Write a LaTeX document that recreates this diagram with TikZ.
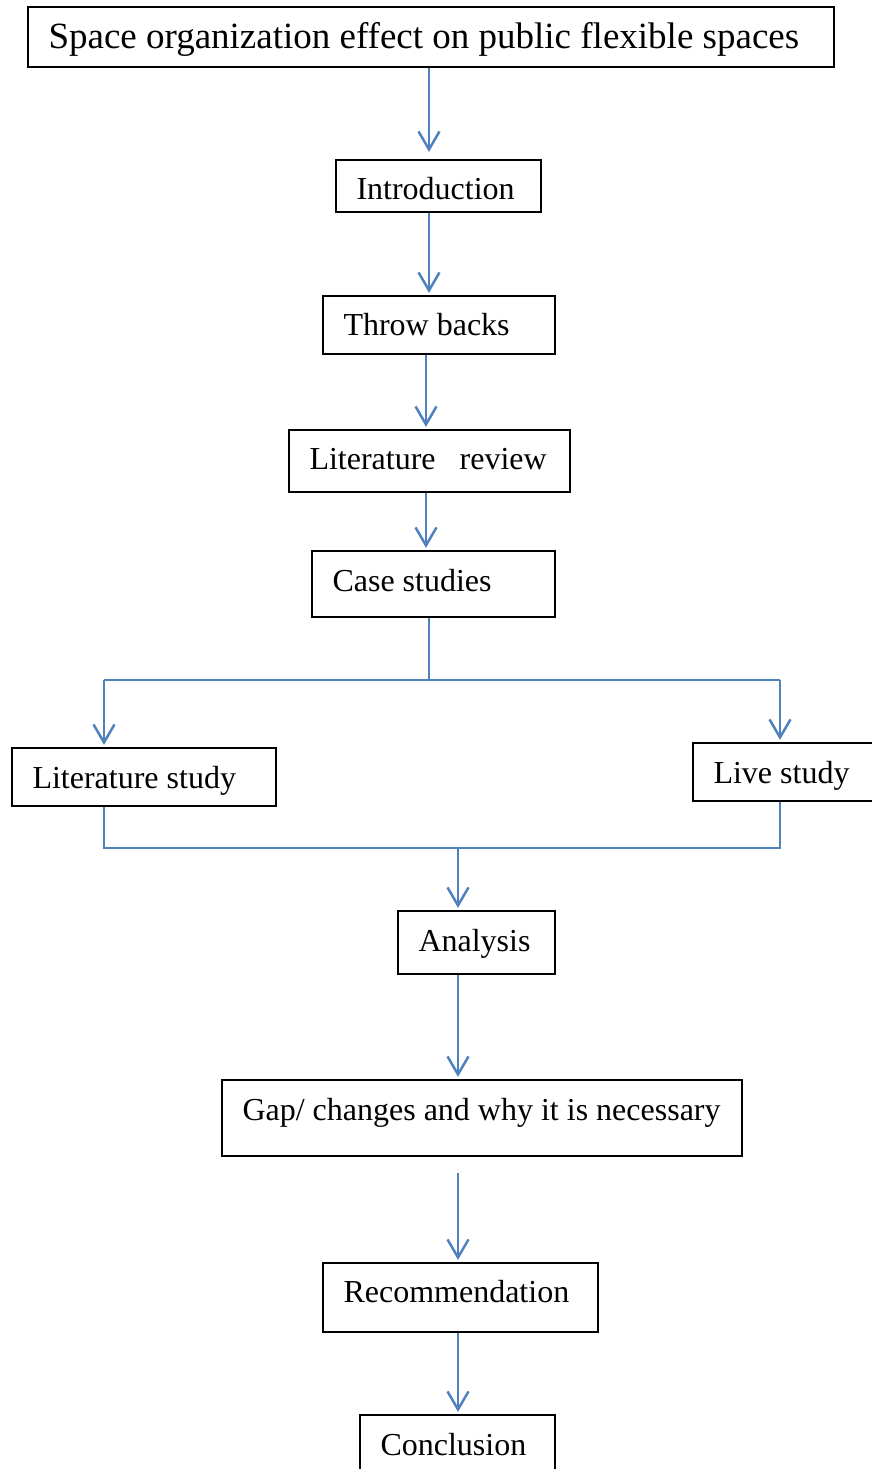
\documentclass[tikz,border=0pt]{standalone}
\usepackage{fontspec}
\setmainfont{Liberation Serif}
\usetikzlibrary{arrows.meta}
\definecolor{linkblue}{HTML}{4F81BD}
\newcommand\boxfont{\fontsize{32}{38}\selectfont}
\newcommand\headfont{\fontsize{37}{44}\selectfont}
\tikzset{
  box/.style={draw=black, line width=2.2pt, inner xsep=20.5pt, inner ysep=0pt,
              text height=30pt, font=\boxfont},
  link/.style={draw=linkblue, line width=2.5pt},
  thinlink/.style={draw=linkblue, line width=1.8pt},
  arr/.style={link, -{Straight Barb[length=18pt,width=21pt]}, shorten >=2pt},
}
\begin{document}
\begin{tikzpicture}[x=1pt, y=-1pt]
  \useasboundingbox (0,0) rectangle (872,1469);

  % boxes (centre, width, height)
  \node[box, line width=1.3pt, font=\headfont, text depth=6pt,
        minimum width=806pt, minimum height=60pt] (title) at (431,37)
        {\makebox[765pt][l]{Space organization effect on public flexible spaces}};
  \node[box, text depth=3pt, minimum width=205pt, minimum height=52pt] (intro) at (438.5,186)
        {\makebox[164pt][l]{Introduction}};
  \node[box, text depth=9pt, minimum width=232pt, minimum height=58pt] (throw) at (439,325)
        {\makebox[191pt][l]{Throw backs}};
  \node[box, text depth=13pt, minimum width=281pt, minimum height=62pt] (litrev) at (429.5,461)
        {\makebox[240pt][l]{Literature\ \ \ review}};
  \node[box, text depth=15pt, minimum width=243pt, minimum height=66pt] (case) at (433.5,584)
        {\makebox[202pt][l]{Case studies}};
  \node[box, text depth=7pt, minimum width=264pt, minimum height=58pt] (litstudy) at (144,777)
        {\makebox[223pt][l]{Literature study}};
  \node[box, text depth=7pt, minimum width=183pt, minimum height=58pt] (live) at (784.5,772)
        {\makebox[142pt][l]{Live study}};
  \node[box, text depth=12pt, minimum width=157pt, minimum height=63pt] (analysis) at (476.5,942.5)
        {\makebox[116pt][l]{Analysis}};
  \node[box, text depth=25pt, minimum width=520pt, minimum height=76pt] (gap) at (482,1118)
        {\makebox[479pt][l]{Gap/ changes and why it is necessary}};
  \node[box, text depth=20pt, minimum width=275pt, minimum height=69pt] (rec) at (460.5,1297.5)
        {\makebox[234pt][l]{Recommendation}};
  \node[box, text depth=14pt, minimum width=195pt, minimum height=65pt] (concl) at (457.5,1447.5)
        {\makebox[154pt][l]{Conclusion}};

  % connector axes and junctions
  \coordinate (ax1) at (429,0);
  \coordinate (ax2) at (426,0);
  \coordinate (split) at (429,680);
  \coordinate (lx) at (104,680);
  \coordinate (rx) at (780,680);
  \coordinate (ml) at (104,848);
  \coordinate (mr) at (780,848);
  \coordinate (join) at (458,848);

  % main spine
  \draw[arr, shorten >=7pt] (title.south -| ax1) -- (intro.north -| ax1);
  \draw[arr] (intro.south -| ax1) -- (throw.north -| ax1);
  \draw[arr] (throw.south -| ax2) -- (litrev.north -| ax2);
  \draw[arr] (litrev.south -| ax2) -- (case.north -| ax2);

  % branch to the two studies
  \draw[thinlink] (case.south -| split) -- (split);
  \draw[thinlink] (lx) -- (rx);
  \draw[arr] (lx) -- (litstudy.north -| lx);
  \draw[arr] (rx) -- (live.north -| rx);

  % merge into analysis
  \draw[thinlink] (litstudy.south -| ml) -- (ml) -- (mr) -- (live.south -| mr);
  \draw[arr] (join) -- (analysis.north -| join);

  % lower spine
  \draw[arr] (analysis.south -| join) -- (gap.north -| join);
  \draw[arr, shorten <=16pt] (gap.south -| join) -- (rec.north -| join);
  \draw[arr] (rec.south -| join) -- (concl.north -| join);
\end{tikzpicture}
\end{document}
